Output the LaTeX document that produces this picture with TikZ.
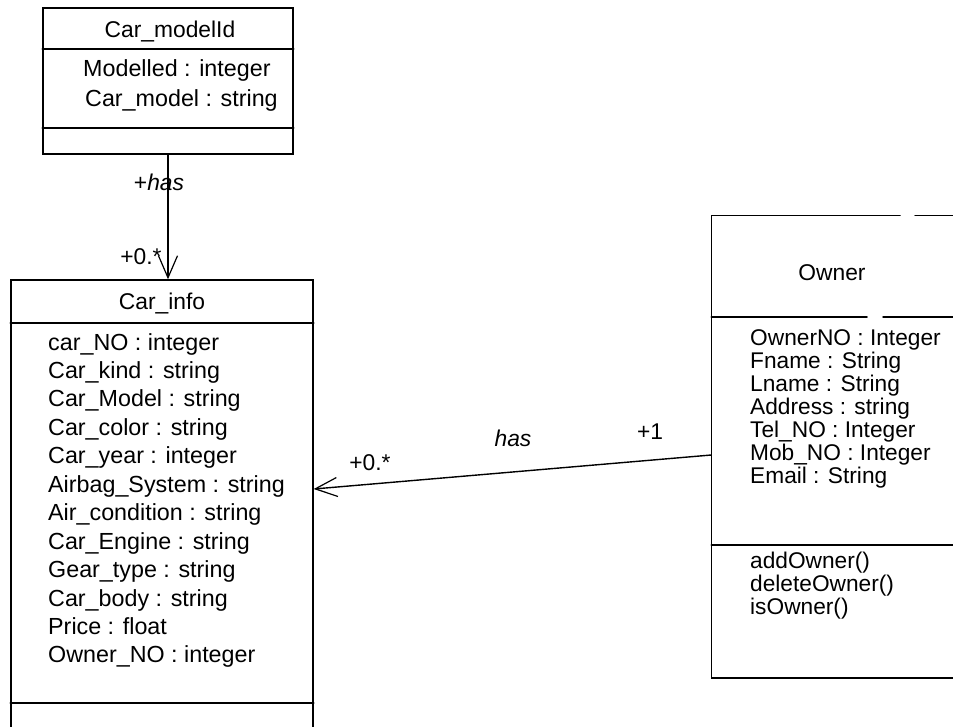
\documentclass[tikz,border=0pt]{standalone}
\usepackage{fontspec}
\setmainfont{Liberation Sans}
\usetikzlibrary{arrows.meta}
\begin{document}
\begin{tikzpicture}[x=1pt,y=-1pt,
  boxline/.style={line width=1.5pt, line cap=round},
  classbox/.style={rectangle, inner sep=0pt, line width=1.5pt},
  member/.style={anchor=base west, inner sep=0pt, font=\fontsize{23.3}{27}\selectfont},
  omember/.style={member, font=\fontsize{22.7}{27}\selectfont},
  ctitle/.style={inner sep=0pt, font=\fontsize{22.8}{27}\selectfont},
  role/.style={inner sep=0pt, font=\fontsize{22.8}{27}\selectfont},
  assoc/.style={line width=1.4pt, -{Straight Barb[length=22pt,width=19pt,line width=1.2pt]}}]
\useasboundingbox[fill=white] (0,0) rectangle (953,726);

% ---- class Car_modelId ----
\node[classbox, draw, minimum width=250pt, minimum height=146pt] (cm) at (168,81) {};
\draw[boxline] (cm.west |- 0,49) -- (cm.east |- 0,49);
\draw[boxline] (cm.west |- 0,128) -- (cm.east |- 0,128);
\node[ctitle] (cmT) at (170,32) {Car\_modelId};
\node[member] (cm1) at (83,76) {Modelled : integer};
\node[member] (cm2) at (85,106) {Car\_model : string};

% ---- class Car_info ----
\node[classbox, draw, minimum width=302pt, minimum height=470pt] (ci) at (162,515) {};
\draw[boxline] (ci.west |- 0,323) -- (ci.east |- 0,323);
\draw[boxline] (ci.west |- 0,703) -- (ci.east |- 0,703);
\node[ctitle] (ciT) at (162,303) {Car\_info};
\foreach \t [count=\i] in {car\_NO : integer, Car\_kind : string, Car\_Model : string,
    Car\_color : string, Car\_year : integer, Airbag\_System : string,
    Air\_condition : string, Car\_Engine : string, Gear\_type : string,
    Car\_body : string, Price : float, Owner\_NO : integer}
  \node[member] (ci\i) at (48,{350+(\i-1)*28.45}) {\t};

% ---- class Owner ----
\node[classbox, minimum width=260pt, minimum height=461pt] (ow) at (842,446.5) {};
\draw[boxline] (ow.north west -| 900,0) -- (ow.north west) -- (ow.south west)
  -- (ow.south east) -- (ow.north east) -- (ow.north east -| 915,0);
\draw[boxline] (ow.west |- 0,317) -- (867,317);
\draw[boxline] (883,317) -- (ow.east |- 0,317);
\draw[boxline] (ow.west |- 0,545) -- (ow.east |- 0,545);
\node[ctitle] (owT) at (832,273) {Owner};
\foreach \t [count=\i] in {OwnerNO : Integer, Fname : String, Lname : String,
    Address : string, Tel\_NO : Integer, Mob\_NO : Integer, Email : String}
  \node[omember] (ow\i) at (750,{345+(\i-1)*23}) {\t};
\foreach \t [count=\i] in {addOwner(), deleteOwner(), isOwner()}
  \node[omember] (om\i) at (750,{568+(\i-1)*23.3}) {\t};

% ---- associations ----
\draw[assoc] (cm.south) -- (cm.south |- ci.north);
\draw[assoc] ([yshift=-8.5pt]ow.west) -- ([yshift=26pt]ci.east);

% ---- association labels ----
\node[role] (lh1) at (159,182) {+\textit{has}};
\node[role] (lm1) at (141,257) {+0.*};
\node[role] (lh2) at (513,438) {\textit{has}};
\node[role] (lo2) at (650,432) {+1};
\node[role] (lm2) at (370,463) {+0.*};
\end{tikzpicture}
\end{document}
